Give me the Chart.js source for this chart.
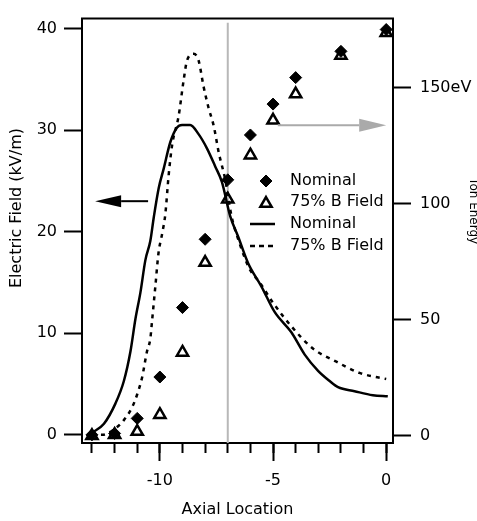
<!DOCTYPE html>
<html>
<head>
<meta charset="utf-8">
<script src="https://cdn.jsdelivr.net/npm/chart.js@4.4.1/dist/chart.umd.min.js"></script>
<style>
  body { margin: 0; background: #fff; }
  #wrap { width: 477px; height: 521px; }
</style>
</head>
<body>
<div id="wrap"><canvas id="chart" width="477" height="521"></canvas></div>
<script>
const FONT = '"DejaVu Sans", Verdana, sans-serif';

// ion energy probe positions (right axis, eV)
const probeX = [-13, -12, -11, -10, -9, -8, -7, -6, -5, -4, -2, 0];
const energyNominal = [0.4, 1, 7.5, 25.3, 55.2, 84.6, 110.2, 129.5, 142.8, 154.2, 165.5, 174.9];
const energyLowB = [0, 0.5, 1.8, 9.1, 35.9, 74.6, 101.8, 120.8, 135.8, 147.1, 163.7, 173.5];

// electric field profiles (left axis, kV/m)
const fieldNominalX = [-13, -12.47, -11.96, -11.59, -11.3, -11.08, -10.86, -10.64, -10.42, -10.27, -10.05, -9.83, -9.54, -9.24, -9.02, -8.66, -8.29, -7.92, -7.55, -7.26, -6.89, -6.54, -6.1, -5.51, -4.93, -4.19, -3.6, -3.01, -2.5, -2.13, -1.4, -0.59, 0.07];
const fieldNominalY = [0.2, 1.1, 3.1, 5.3, 8.2, 11.4, 14.0, 17.2, 19.1, 21.4, 24.3, 26.2, 28.8, 30.25, 30.5, 30.5, 29.6, 28.2, 26.4, 24.9, 21.5, 19.5, 16.9, 14.6, 12.1, 10.1, 7.9, 6.3, 5.3, 4.7, 4.3, 3.9, 3.8];
const fieldLowBX = [-13, -12.55, -11.96, -11.59, -11.23, -11.0, -10.79, -10.57, -10.42, -10.35, -10.2, -10.06, -9.9, -9.76, -9.61, -9.46, -9.17, -8.95, -8.8, -8.51, -8.29, -8.07, -7.85, -7.62, -7.4, -7.11, -6.84, -6.47, -6.03, -5.59, -5.0, -4.12, -3.24, -2.2, -1.18, 0];
const fieldLowBY = [0, 0, 0.65, 1.45, 2.7, 4.0, 5.6, 8.2, 9.5, 11.1, 14.6, 17.9, 19.8, 21.7, 25.6, 28.5, 31.4, 34.9, 36.85, 37.5, 36.85, 34.3, 32.2, 30.4, 27.8, 25.1, 21.6, 18.8, 16.3, 15.0, 13.0, 10.5, 8.5, 7.2, 6.1, 5.5];

// reference line and arrows
const markerLineX = -7;
const fieldArrowX = [-10.52, -12.86];
const fieldArrowY = 23;
const energyArrowX = [-4.79, 0.0];
const energyArrowY = 133.7;

// axes
const xMajorTicks = [-10, -5, 0];
const xMinorTicks = [-13, -12, -11, -10, -9, -8, -7, -6, -5, -4, -3, -2, -1, 0];
const fieldTicks = [0, 10, 20, 30, 40];
const energyTicks = [0, 50, 100, 150];
const legendLabels = ['Nominal', '75% B Field', 'Nominal', '75% B Field'];

const toPoints = (xs, ys) => xs.map((x, i) => ({ x, y: ys[i] }));

function drawArrow(ctx, x1, x2, y, color, headLen, headHalf) {
  const dir = Math.sign(x2 - x1);
  ctx.save();
  ctx.strokeStyle = color;
  ctx.fillStyle = color;
  ctx.lineWidth = 2;
  ctx.beginPath();
  ctx.moveTo(x1, y);
  ctx.lineTo(x2 - dir * headLen, y);
  ctx.stroke();
  ctx.beginPath();
  ctx.moveTo(x2, y);
  ctx.lineTo(x2 - dir * headLen, y - headHalf);
  ctx.lineTo(x2 - dir * headLen, y + headHalf);
  ctx.closePath();
  ctx.fill();
  ctx.restore();
}

const extras = {
  id: 'extras',
  afterDraw(chart) {
    const { ctx, chartArea, scales } = chart;
    const { x, yF, yE } = scales;

    // top edge of the frame
    ctx.save();
    ctx.strokeStyle = '#000';
    ctx.lineWidth = 2;
    ctx.beginPath();
    ctx.moveTo(chartArea.left - 1, chartArea.top);
    ctx.lineTo(chartArea.right + 1, chartArea.top);
    ctx.stroke();
    ctx.restore();

    drawArrow(ctx, x.getPixelForValue(fieldArrowX[0]), x.getPixelForValue(fieldArrowX[1]),
      yF.getPixelForValue(fieldArrowY), '#000', 26, 6);
    drawArrow(ctx, x.getPixelForValue(energyArrowX[0]), x.getPixelForValue(energyArrowX[1]),
      yE.getPixelForValue(energyArrowY), '#aaaaaa', 27, 6.5);

    // axis titles
    ctx.save();
    ctx.fillStyle = '#000';
    ctx.textAlign = 'center';
    ctx.textBaseline = 'middle';
    ctx.font = '16px ' + FONT;
    ctx.translate(17, 208);
    ctx.rotate(-Math.PI / 2);
    ctx.fillText('Electric Field (kV/m)', 0, 0);
    ctx.restore();

    ctx.save();
    ctx.fillStyle = '#000';
    ctx.textAlign = 'center';
    ctx.textBaseline = 'middle';
    ctx.font = '12px ' + FONT;
    ctx.translate(473.5, 212);
    ctx.rotate(Math.PI / 2);
    ctx.fillText('Ion Energy', 0, 0);
    ctx.restore();

    // legend
    ctx.save();
    ctx.fillStyle = '#000';
    ctx.strokeStyle = '#000';
    ctx.font = '16px ' + FONT;
    ctx.textBaseline = 'middle';
    ctx.textAlign = 'left';
    const rowsY = [181, 202, 224, 246];
    legendLabels.forEach((t, i) => ctx.fillText(t, 290, rowsY[i]));
    Chart.helpers.drawPoint(ctx, { pointStyle: 'rectRot', radius: 6, borderWidth: 1 }, 266, rowsY[0]);
    ctx.fillStyle = 'rgba(0,0,0,0)';
    ctx.lineWidth = 2.5;
    Chart.helpers.drawPoint(ctx, { pointStyle: 'triangle', radius: 6.5, borderWidth: 2.5 }, 266, rowsY[1] + 1.5);
    ctx.lineWidth = 2.5;
    ctx.beginPath();
    ctx.moveTo(250, rowsY[2]);
    ctx.lineTo(275, rowsY[2]);
    ctx.stroke();
    ctx.setLineDash([5, 4]);
    ctx.beginPath();
    ctx.moveTo(250, rowsY[3]);
    ctx.lineTo(275, rowsY[3]);
    ctx.stroke();
    ctx.restore();
  }
};

const tickFont = { family: FONT, size: 16 };

new Chart(document.getElementById('chart'), {
  type: 'scatter',
  data: {
    datasets: [
      {
        label: 'Nominal',
        data: toPoints(probeX, energyNominal),
        yAxisID: 'yE',
        pointStyle: 'rectRot',
        pointRadius: 6,
        backgroundColor: '#000',
        borderColor: '#000',
        borderWidth: 1,
        order: 1,
      },
      {
        label: '75% B Field',
        data: toPoints(probeX, energyLowB),
        yAxisID: 'yE',
        pointStyle: 'triangle',
        pointRadius: 6.5,
        backgroundColor: 'rgba(0,0,0,0)',
        borderColor: '#000',
        borderWidth: 2.5,
        order: 2,
      },
      {
        label: 'Nominal',
        data: toPoints(fieldNominalX, fieldNominalY),
        yAxisID: 'yF',
        showLine: true,
        pointRadius: 0,
        borderColor: '#000',
        borderWidth: 2.5,
        cubicInterpolationMode: 'monotone',
        order: 3,
      },
      {
        label: '75% B Field',
        data: toPoints(fieldLowBX, fieldLowBY),
        yAxisID: 'yF',
        showLine: true,
        pointRadius: 0,
        borderColor: '#000',
        borderWidth: 2.5,
        borderDash: [4, 5],
        cubicInterpolationMode: 'monotone',
        order: 4,
      },
      {
        label: 'marker',
        data: [{ x: markerLineX, y: -0.8 }, { x: markerLineX, y: 40.55 }],
        yAxisID: 'yF',
        showLine: true,
        pointRadius: 0,
        borderColor: '#b8b8b8',
        borderWidth: 2,
        order: 10,
      },
    ],
  },
  options: {
    responsive: false,
    animation: false,
    layout: { padding: { top: 11, left: 0, right: 0, bottom: 0 } },
    plugins: { legend: { display: false }, tooltip: { enabled: false } },
    scales: {
      x: {
        type: 'linear',
        position: 'bottom',
        min: -13.44,
        max: 0.3,
        afterBuildTicks: (s) => { s.ticks = xMajorTicks.map((v) => ({ value: v })); },
        afterFit: (s) => { s.height = 78; },
        border: { display: true, color: '#000', width: 2 },
        grid: { drawOnChartArea: false, color: '#000', tickLength: 18, tickWidth: 2 },
        ticks: { color: '#000', font: tickFont, padding: 10, maxRotation: 0 },
        title: { display: true, text: 'Axial Location', color: '#000', font: tickFont, padding: { top: 0, bottom: 2 } },
      },
      xMinor: {
        type: 'linear',
        position: 'bottom',
        min: -13.44,
        max: 0.3,
        weight: -1,
        afterBuildTicks: (s) => { s.ticks = xMinorTicks.map((v) => ({ value: v })); },
        afterFit: (s) => { s.height = 0; },
        border: { display: false },
        grid: { drawOnChartArea: false, color: '#000', tickLength: 10, tickWidth: 2 },
        ticks: { display: false },
      },
      yF: {
        type: 'linear',
        position: 'left',
        min: -0.8,
        max: 40.97,
        afterBuildTicks: (s) => { s.ticks = fieldTicks.map((v) => ({ value: v })); },
        afterFit: (s) => { s.width = 82; },
        border: { display: true, color: '#000', width: 2 },
        grid: { drawOnChartArea: false, color: '#000', tickLength: 18, tickWidth: 2 },
        ticks: { color: '#000', font: tickFont, padding: 7 },
      },
      yE: {
        type: 'linear',
        position: 'right',
        min: -3.1,
        max: 179.6,
        afterBuildTicks: (s) => { s.ticks = energyTicks.map((v) => ({ value: v })); },
        afterFit: (s) => { s.width = 84; },
        border: { display: true, color: '#000', width: 2 },
        grid: { drawOnChartArea: false, color: '#000', tickLength: 18, tickWidth: 2 },
        ticks: {
          color: '#000',
          font: tickFont,
          padding: 9,
          callback: (v) => (v === 150 ? '150eV' : v),
        },
      },
    },
  },
  plugins: [extras],
});
</script>
</body>
</html>
